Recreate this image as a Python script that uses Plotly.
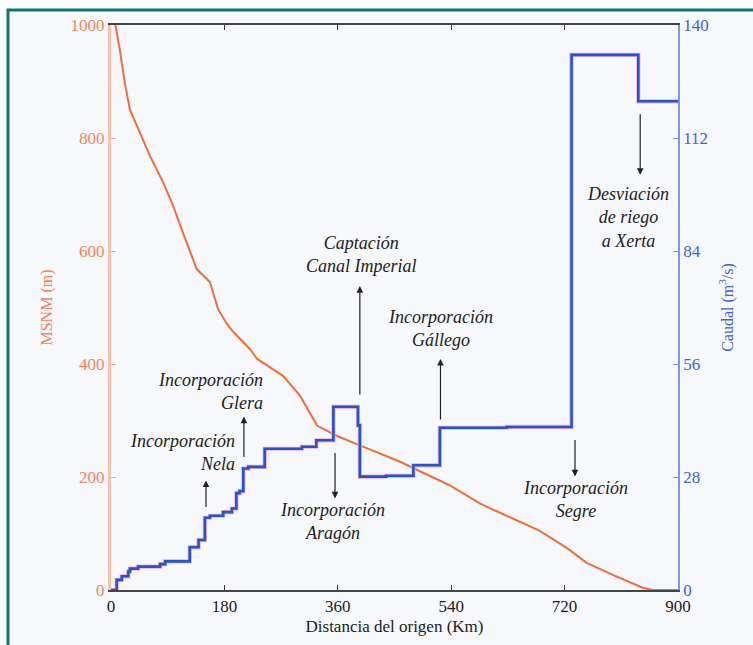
import plotly.graph_objects as go

# Elevation profile (MSNM, m) vs distance (km)
elev_km = [7, 14, 22, 30, 46, 62, 83, 99, 114, 136, 157, 170, 184, 194, 220, 232, 273, 300,
           327, 358, 395, 459, 538, 586, 613, 680, 724, 755, 800, 844, 860, 900]
elev_m = [1000, 956, 897, 850, 809, 768, 721, 679, 633, 568, 545, 497, 471, 457, 427, 409, 379, 344,
          291, 273, 256, 227, 185, 153, 139, 105, 74, 48, 25, 4, 0, 0]

# Flow (Caudal, m3/s) step series: value starting at each km
flow_km = [0, 9, 17, 27.5, 30, 43, 78, 86, 125, 139, 149, 157, 178, 192, 199, 204, 210, 218,
           244, 303, 326, 353, 392, 395, 437, 480, 522, 628, 731, 837, 900]
flow_q = [0, 2.5, 3.4, 4.6, 5.3, 5.8, 6.4, 7.1, 10.6, 12.4, 17.9, 18.4, 19.3, 20.2, 24.0, 24.5, 30.1, 30.5,
          35.0, 35.5, 37.1, 45.4, 40.8, 28.1, 28.3, 30.9, 40.2, 40.4, 132.6, 121.1, 121.1]

x_ticks = [0, 180, 360, 540, 720, 900]
y_ticks = [0, 200, 400, 600, 800, 1000]
y2_ticks = [0, 28, 56, 84, 112, 140]

# Annotation labels: (text, x km, y m, xanchor, align)
labels = [
    ("Incorporación<br>Nela", 200, 244, "right", "right"),
    ("Incorporación<br>Glera", 244.5, 352, "right", "right"),
    ("Incorporación<br>Aragón", 352, 121, "center", "center"),
    ("Captación<br>Canal Imperial", 397, 593, "center", "center"),
    ("Incorporación<br>Gállego", 523, 462, "center", "center"),
    ("Incorporación<br>Segre", 738, 160, "center", "center"),
    ("Desviación<br>de riego<br>a Xerta", 820, 660, "center", "center"),
]
# Arrows: (x km, head y m, tail offset px)
arrows = [
    (150.8, 194, 28),
    (211, 307, 42),
    (355.6, 162, -47),
    (395, 538, 110),
    (523, 409, 62),
    (736.5, 201, -38),
    (840, 735, -62),
]

ORANGE = "#f26d3d"
ORANGE_L = "#f3845c"
BLUE = "#2257c9"
BLUE_L = "#3f63d6"
SERIF = "Times New Roman, Liberation Serif, Tinos, DejaVu Serif, serif"

fig = go.Figure()
fig.add_trace(go.Scatter(x=elev_km, y=elev_m, mode="lines",
                         line=dict(color=ORANGE, width=2), yaxis="y", hoverinfo="skip"))
fig.add_trace(go.Scatter(x=flow_km, y=flow_q, mode="lines", line_shape="hv",
                         line=dict(color="#f2a9d6", width=4.2), yaxis="y2", hoverinfo="skip"))
fig.add_trace(go.Scatter(x=flow_km, y=flow_q, mode="lines", line_shape="hv",
                         line=dict(color=BLUE, width=2.6), yaxis="y2", hoverinfo="skip"))

annotations = []
for text, x, y, xa, al in labels:
    annotations.append(dict(x=x, y=y, xref="x", yref="y", text=text, showarrow=False,
                            xanchor=xa, yanchor="middle", align=al,
                            font=dict(family=SERIF, size=18, color="#222222", style="italic")))
for x, y, ay in arrows:
    annotations.append(dict(x=x, y=y, xref="x", yref="y", text="", showarrow=True,
                            ax=0, ay=ay, arrowhead=2, arrowsize=1.1, arrowwidth=1.2,
                            arrowcolor="#222222"))

fig.update_layout(
    width=753, height=645,
    margin=dict(l=111, r=75, t=25, b=53),
    paper_bgcolor="white",
    plot_bgcolor="rgba(0,0,0,0)",
    showlegend=False,
    font=dict(family=SERIF, size=17, color="#222222"),
    xaxis=dict(range=[0, 900], tickvals=x_ticks, ticks="inside", ticklen=5, tickcolor="#333",
               showline=True, linecolor="#444", linewidth=1.5, mirror="ticks",
               showgrid=False, zeroline=False,
               tickfont=dict(family=SERIF, size=17, color="#222"),
               title=dict(text="Distancia del origen (Km)", standoff=5,
                          font=dict(family=SERIF, size=17, color="#222"))),
    yaxis=dict(range=[0, 1000], tickvals=y_ticks, ticks="inside", ticklen=5, tickcolor="#f6a889",
               showline=True, linecolor="#f8c1a9", linewidth=3, showgrid=False, zeroline=False,
               tickfont=dict(family=SERIF, size=17, color=ORANGE_L),
               title=dict(text="MSNM (m)", standoff=14,
                          font=dict(family=SERIF, size=16, color=ORANGE_L))),
    yaxis2=dict(range=[0, 140], tickvals=y2_ticks, ticks="inside", ticklen=5, tickcolor="#7f95e6",
                overlaying="y", side="right",
                showline=True, linecolor="#7f95e6", linewidth=1.5, showgrid=False, zeroline=False,
                tickfont=dict(family=SERIF, size=17, color=BLUE_L),
                title=dict(text="Caudal (m<sup>3</sup>/s)", standoff=14,
                           font=dict(family=SERIF, size=16, color=BLUE_L))),
    annotations=annotations,
    shapes=[dict(type="rect", xref="paper", yref="paper", layer="below",
                 x0=(8 - 111) / 567, x1=(770 - 111) / 567,
                 y0=(592 - 660) / 567, y1=(592 - 10) / 567,
                 line=dict(color="#157272", width=3), fillcolor="#f7f8fb")],
)

fig.write_html("out.html")
